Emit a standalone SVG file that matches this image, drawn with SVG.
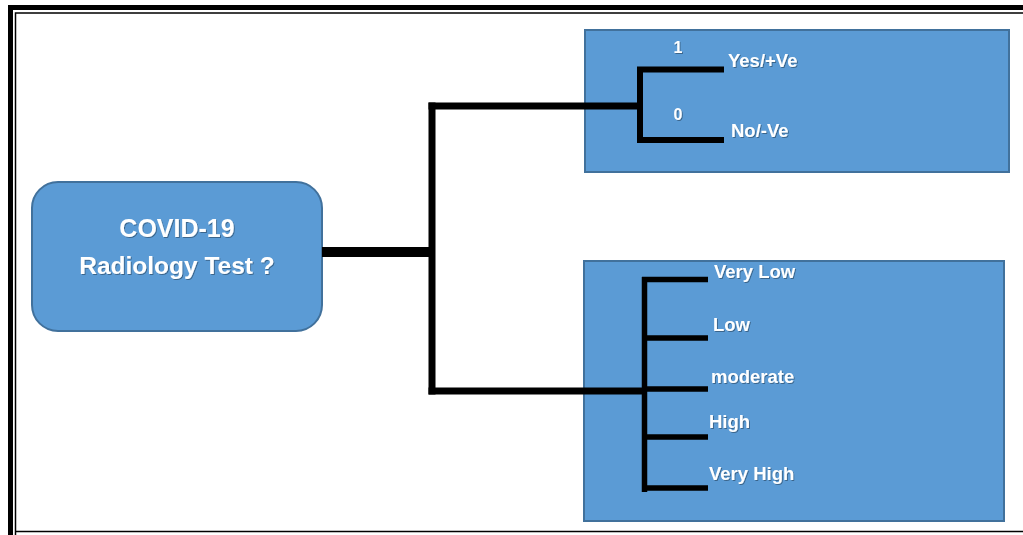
<svg xmlns="http://www.w3.org/2000/svg" width="1023" height="535" viewBox="0 0 1023 535">
  <style>
    .box { fill: #5B9BD5; stroke: #41719C; stroke-width: 2; }
    .wire { fill: none; stroke: #000; stroke-linejoin: miter; stroke-linecap: butt; }
    .lbl { font-family: "Liberation Sans", Arial, sans-serif; font-weight: bold; fill: #fff; filter: url(#txtShadow); }
    .frame { fill: none; stroke: #000; }
  </style>
  <defs>
    <filter id="txtShadow" x="-10%" y="-20%" width="130%" height="150%">
      <feDropShadow dx="1" dy="1" stdDeviation="0.6" flood-color="#000" flood-opacity="0.35"/>
    </filter>
  </defs>

  <rect width="1023" height="535" fill="#fff"/>

  <!-- page border: heavy outer rule with a thin inner rule -->
  <g id="frame">
    <path class="frame" stroke-width="5" d="M10.5,535 V7.5 H1023"/>
    <path class="frame" stroke-width="1.5" stroke="#222" d="M15.5,535 V13 H1023"/>
    <path class="frame" stroke-width="1.5" stroke="#222" d="M15.5,531.5 H1023"/>
  </g>

  <!-- root question -->
  <g id="node-root">
    <rect class="box" x="32" y="182" width="290" height="149" rx="26" ry="26"/>
    <text class="lbl" font-size="25" text-anchor="middle" x="177" y="237">COVID-19</text>
    <text class="lbl" font-size="24.5" text-anchor="middle" x="177" y="274">Radiology Test ?</text>
  </g>

  <!-- binary outcome -->
  <g id="node-binary">
    <rect class="box" x="585" y="30" width="424" height="142"/>
    <path class="wire" stroke-width="6" d="M724,69.5 H640 V140 H724"/>
    <text class="lbl" font-size="16" text-anchor="middle" x="678" y="53">1</text>
    <text class="lbl" font-size="18.5" x="728" y="67">Yes/+Ve</text>
    <text class="lbl" font-size="16" text-anchor="middle" x="678" y="120">0</text>
    <text class="lbl" font-size="18.5" x="731" y="137">No/-Ve</text>
  </g>

  <!-- graded outcome -->
  <g id="node-grades">
    <rect class="box" x="584" y="261" width="420" height="260"/>
    <path class="wire" stroke-width="5.5" d="M644.5,277 V492"/>
    <path class="wire" stroke-width="5.5" d="M642,279.5 H708 M644,338 H708 M644,389 H708 M644,437 H708 M644,488 H708"/>
    <text class="lbl" font-size="18.5" x="714" y="278">Very Low</text>
    <text class="lbl" font-size="18.5" x="713" y="331">Low</text>
    <text class="lbl" font-size="18.5" x="711" y="383">moderate</text>
    <text class="lbl" font-size="18.5" x="709" y="428">High</text>
    <text class="lbl" font-size="18.5" x="709" y="480">Very High</text>
  </g>

  <!-- connectors, drawn over the boxes so they reach each bracket -->
  <g id="connectors">
    <path class="wire" stroke-width="10" d="M322,252 H432"/>
    <path class="wire" stroke-width="7" d="M432,102.5 V394.5"/>
    <path class="wire" stroke-width="7" d="M428.5,106 H641"/>
    <path class="wire" stroke-width="7" d="M428.5,391 H644"/>
  </g>
</svg>
